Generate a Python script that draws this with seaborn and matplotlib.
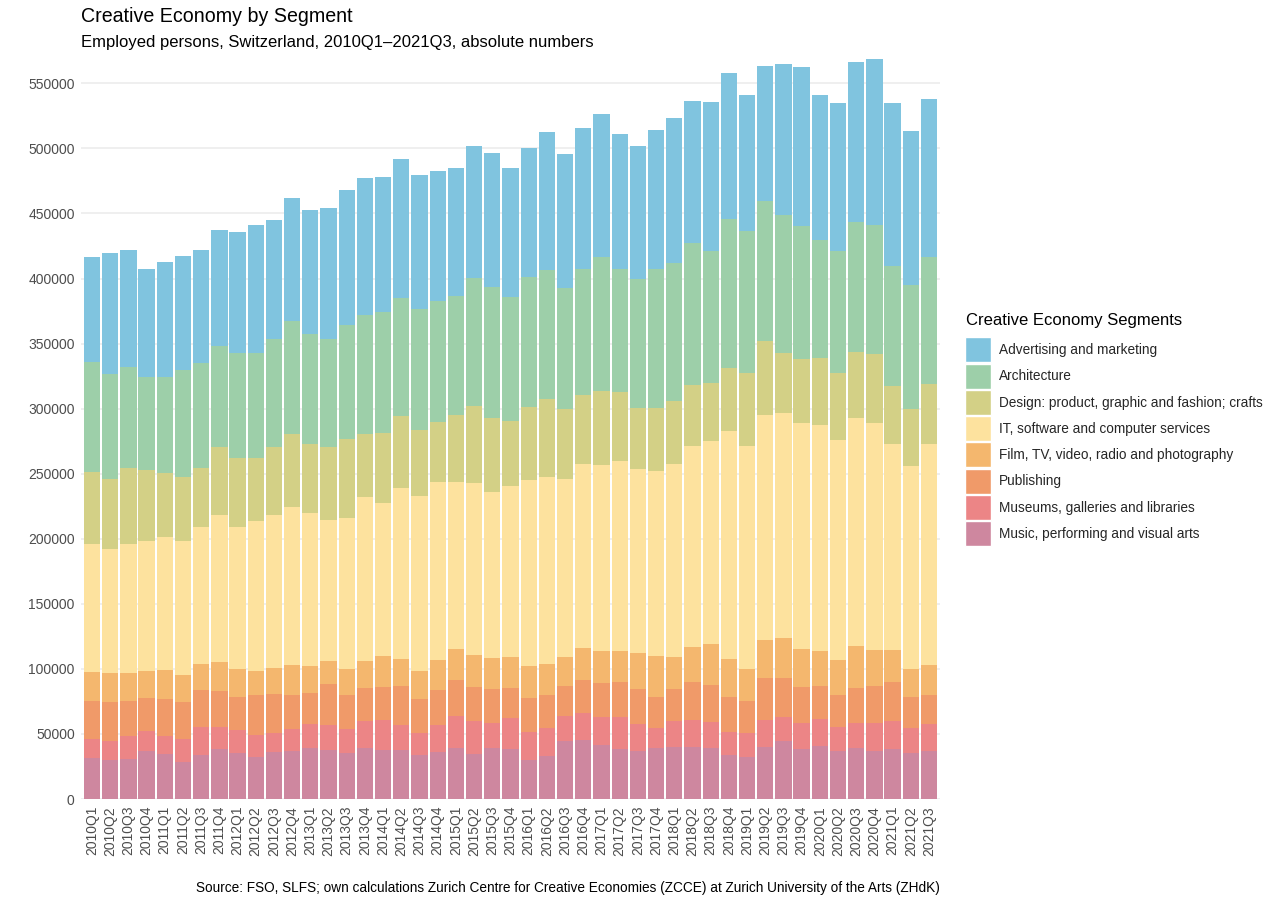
import matplotlib
matplotlib.use('Agg')
import matplotlib.pyplot as plt
from matplotlib.patches import Patch
import numpy as np
import seaborn as sns

# quarters 2010Q1 .. 2021Q3
quarters = [f"{y}Q{q}" for y in range(2010, 2022) for q in range(1, 5)][:47]

# employed persons per segment, in thousands
music = [31.8, 29.7, 30.5, 36.7, 34.9, 28.7, 34.1, 38.5, 35.6, 32.6, 36.4, 36.9, 39.0, 37.4, 35.4, 39.0,
         37.7, 37.7, 33.8, 36.4, 39.0, 34.9, 39.0, 38.5, 30.2, 33.3, 44.9, 45.4, 41.5, 38.5, 37.2, 39.0,
         40.3, 39.7, 39.5, 33.8, 32.3, 40.0, 44.6, 38.5, 41.0, 37.2, 39.2, 37.2, 38.7, 35.6, 37.2]
museums = [14.6, 14.9, 17.9, 15.3, 13.5, 17.4, 21.3, 17.1, 17.2, 16.6, 14.4, 17.2, 18.7, 19.8, 18.4, 21.0,
           23.1, 19.0, 16.7, 20.5, 25.1, 24.8, 19.7, 23.5, 21.1, 21.5, 19.2, 21.0, 21.8, 24.6, 20.5, 15.6,
           19.9, 20.8, 19.7, 17.5, 18.2, 20.8, 18.7, 20.2, 20.3, 18.2, 19.5, 21.5, 21.5, 19.0, 20.7]
publishing = [29.0, 29.7, 27.0, 25.9, 28.5, 28.7, 28.7, 27.5, 25.9, 30.8, 30.2, 25.6, 23.8, 31.0, 25.9, 25.4,
              25.3, 30.5, 26.4, 27.2, 27.4, 26.4, 26.1, 23.6, 26.6, 25.2, 22.5, 25.1, 25.6, 26.9, 27.1, 23.6,
              24.4, 29.5, 28.5, 27.4, 24.9, 32.0, 29.5, 27.4, 25.6, 24.8, 26.9, 28.2, 29.8, 23.6, 22.1]
film = [22.0, 22.3, 21.2, 20.5, 22.3, 20.6, 19.7, 22.0, 21.0, 18.4, 19.7, 23.3, 20.5, 18.2, 20.0, 21.0,
        23.6, 20.5, 21.5, 23.0, 24.1, 24.9, 23.6, 23.4, 24.6, 24.0, 22.4, 24.6, 24.7, 23.6, 27.7, 31.5,
        24.4, 26.9, 31.8, 29.2, 24.3, 29.2, 31.0, 29.5, 26.7, 26.7, 32.3, 27.5, 24.4, 21.8, 23.0]
it = [98.9, 95.7, 99.2, 99.7, 102.0, 102.7, 105.4, 113.3, 109.0, 114.9, 117.7, 121.5, 117.9, 108.4, 116.6, 125.8,
      117.9, 131.7, 134.6, 136.4, 127.9, 132.0, 127.7, 131.2, 142.8, 143.4, 136.8, 141.5, 143.0, 146.1, 141.0, 142.5,
      148.1, 154.6, 155.3, 174.8, 171.8, 172.8, 172.5, 173.0, 173.8, 168.9, 175.3, 174.7, 158.6, 155.8, 169.5]
design = [54.9, 53.3, 58.7, 54.9, 49.5, 49.0, 45.3, 52.5, 53.5, 48.9, 52.3, 55.7, 53.3, 55.4, 60.5, 48.7,
          53.9, 54.6, 50.5, 45.9, 51.5, 59.2, 56.9, 50.2, 56.1, 60.4, 53.6, 52.6, 57.2, 53.0, 46.9, 48.2,
          49.0, 46.9, 45.1, 48.5, 55.8, 56.9, 46.2, 49.5, 51.2, 51.8, 50.5, 53.1, 44.6, 44.0, 46.6]
architecture = [84.6, 81.0, 77.2, 71.0, 73.3, 82.3, 80.5, 76.9, 80.3, 80.8, 83.0, 87.1, 83.9, 83.5, 87.7, 91.0,
                92.5, 91.3, 92.8, 93.1, 91.8, 97.9, 100.5, 95.6, 99.8, 99.0, 93.0, 97.1, 102.7, 94.9, 99.2, 107.2,
                106.1, 109.2, 101.2, 114.3, 109.0, 107.7, 106.1, 102.5, 91.0, 93.3, 100.0, 98.7, 91.8, 95.0, 97.7]
advertising = [81.0, 93.3, 90.0, 83.3, 88.4, 87.7, 86.7, 89.5, 93.5, 97.9, 91.0, 94.4, 95.6, 100.3, 103.3, 105.1,
               104.1, 106.3, 103.3, 99.9, 98.4, 101.5, 103.0, 98.7, 99.2, 105.9, 103.6, 108.2, 110.0, 103.8, 102.3, 106.6,
               111.2, 108.9, 114.6, 112.6, 104.8, 104.0, 116.1, 122.3, 111.8, 114.3, 123.1, 128.1, 125.8, 118.9, 121.0]

segments = ["Advertising and marketing", "Architecture", "Design: product, graphic and fashion; crafts",
            "IT, software and computer services", "Film, TV, video, radio and photography", "Publishing",
            "Museums, galleries and libraries", "Music, performing and visual arts"]
colors = ["#80C4DF", "#9DCFA9", "#D3D086", "#FDE29E", "#F4B76E", "#F09A69", "#EC8586", "#CE879F"]

sns.set_theme(style="white")
plt.rcParams['font.family'] = ['Liberation Sans', 'DejaVu Sans']

# bottom -> top order, in persons
layers = [music, museums, publishing, film, it, design, architecture, advertising]
cum = np.cumsum(np.array(layers) * 1000, axis=0)

fig = plt.figure(figsize=(12.79, 9.05), dpi=100)
ax = fig.add_axes([81 / 1279, 1 - 799 / 905, (940 - 81) / 1279, (799 - 58) / 905])

# draw tallest cumulative first so lower segments paint over it
for k in range(len(layers) - 1, -1, -1):
    sns.barplot(x=quarters, y=cum[k], color=colors[len(layers) - 1 - k], saturation=1,
                width=0.9, linewidth=0, ax=ax, zorder=2)

ax.set_xlim(-0.6, 46.6)
ax.set_ylim(0, 569500)
ax.set_yticks(np.arange(0, 550001, 50000))
ax.set_yticklabels([str(v) for v in range(0, 550001, 50000)])
ax.yaxis.grid(True, color='#EBEBEB', linewidth=1.1, zorder=0)
ax.xaxis.grid(False)
ax.set_axisbelow(True)
for s in ax.spines.values():
    s.set_visible(False)
ax.tick_params(axis='both', length=0, labelsize=10, colors='#4D4D4D')
ax.tick_params(axis='x', rotation=90, pad=5)
ax.tick_params(axis='y', pad=4.5)
ax.set_xlabel('')
ax.set_ylabel('')

fig.text(81 / 1279, 1 - 16 / 905, "Creative Economy by Segment", fontsize=14.1, color='black', va='center')
fig.text(81 / 1279, 1 - 42 / 905, "Employed persons, Switzerland, 2010Q1\u20132021Q3, absolute numbers",
         fontsize=12, color='black', va='center')
fig.text(940 / 1279, 1 - 888 / 905,
         "Source: FSO, SLFS; own calculations Zurich Centre for Creative Economies (ZCCE) at Zurich University of the Arts (ZHdK)",
         fontsize=9.8, color='black', ha='right', va='center')

# legend title as separate text to control its gap to the keys
fig.text(966 / 1279, 1 - 321 / 905, "Creative Economy Segments", fontsize=12, color='black', va='center')
handles = [Patch(facecolor=c, edgecolor='white', linewidth=1.0) for c in colors]
fig.legend(handles, segments, loc='upper left',
           bbox_to_anchor=(960 / 1279, 1 - 332 / 905), frameon=False, fontsize=9.8,
           handlelength=1.85, handleheight=2.45, labelspacing=0.09,
           handletextpad=0.6, borderaxespad=0)

fig.savefig("out.png", dpi=100)
